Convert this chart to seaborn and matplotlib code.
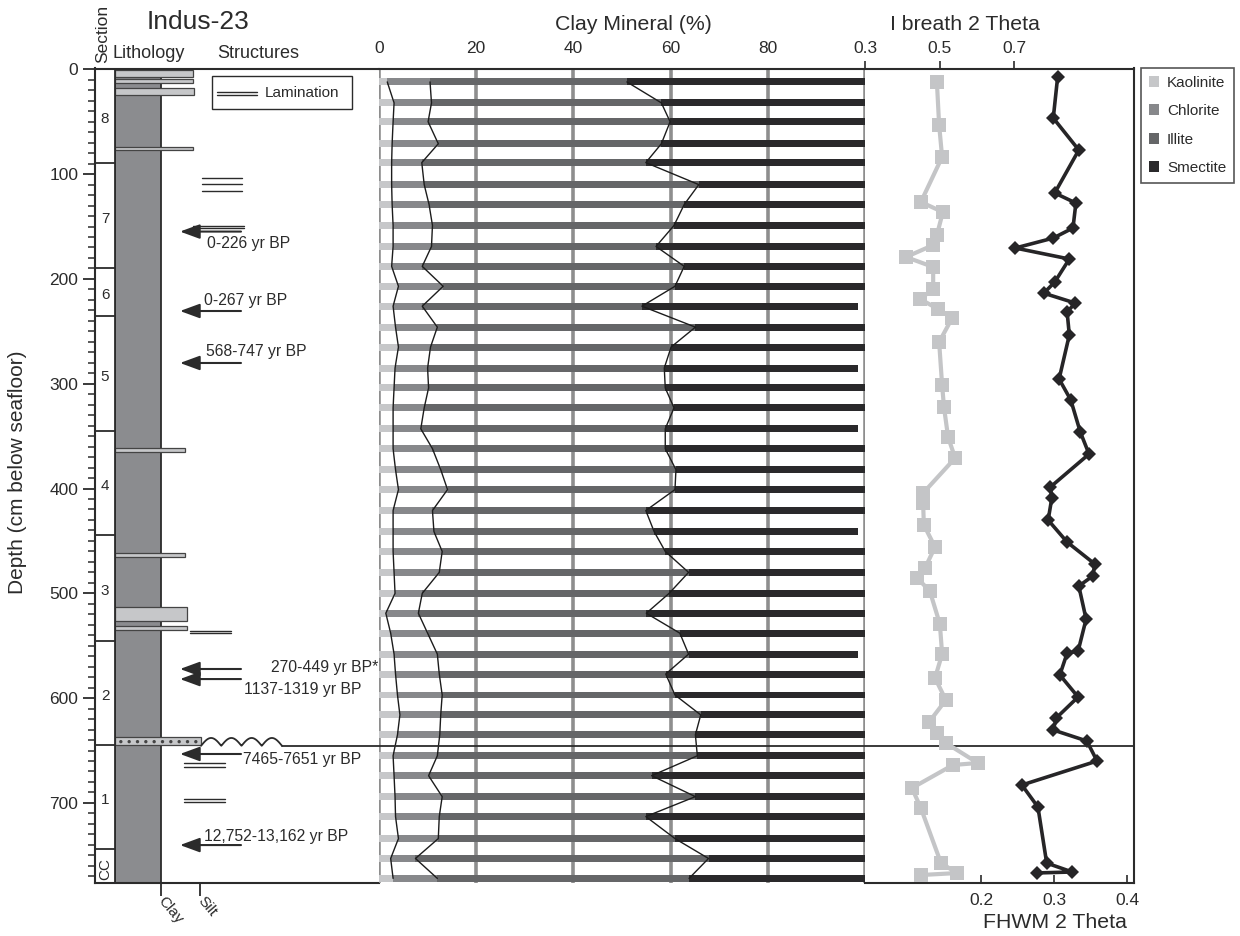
import numpy as np
import pandas as pd
import matplotlib
matplotlib.use("Agg")
import matplotlib.pyplot as plt
from matplotlib.patches import Rectangle, Patch
import seaborn as sns

# ---- clay mineral percentages (stacked bars) ----
bar_depth = [12, 32, 50, 71, 89, 110, 129, 149, 169, 188,
             207, 226, 246, 265, 285, 304, 323, 343, 362, 382,
             401, 421, 441, 460, 480, 500, 519, 538, 558, 577,
             597, 616, 635, 655, 674, 694, 713, 734, 753, 772]
kaolinite = [1.7, 3.1, 2.9, 2.7, 2.6, 2.6, 2.7, 2.9, 2.9, 2.6,
             4.0, 2.9, 3.4, 4.0, 3.3, 3.1, 2.9, 2.9, 2.9, 3.4,
             4.0, 2.9, 2.9, 2.9, 3.1, 3.3, 1.4, 2.4, 3.1, 3.4,
             3.8, 4.3, 3.8, 2.9, 3.1, 3.3, 3.4, 4.0, 2.4, 2.9]
chlorite = [8.8, 7.7, 7.2, 9.5, 6.2, 6.7, 7.6, 8.1, 7.9, 6.3,
            9.2, 6.0, 8.6, 6.6, 6.7, 7.1, 6.4, 5.7, 8.1, 9.3,
            10.1, 8.1, 8.4, 10.1, 9.3, 5.6, 6.7, 7.6, 8.9, 9.0,
            9.2, 8.4, 8.7, 9.1, 7.1, 9.7, 9.0, 8.2, 5.1, 9.1]
illite = [40.5, 47.3, 49.8, 45.9, 46.1, 56.5, 52.5, 49.7, 46.2, 53.9,
          47.7, 45.2, 53.1, 49.5, 48.7, 48.7, 51.4, 50.3, 47.9, 48.4,
          46.8, 43.9, 45.3, 45.9, 51.3, 50.8, 46.9, 51.9, 51.7, 46.6,
          47.9, 53.5, 52.6, 53.5, 45.9, 52.1, 42.5, 48.7, 60.3, 51.8]
smectite = [48.9, 41.8, 40.5, 41.8, 45.0, 34.1, 37.1, 39.2, 42.9, 37.1,
            39.0, 44.5, 35.3, 39.8, 39.9, 41.0, 39.2, 39.7, 41.0, 39.3,
            39.5, 45.5, 42.0, 41.0, 36.7, 40.7, 44.9, 38.0, 34.9, 40.9,
            39.5, 34.2, 35.3, 34.4, 43.8, 34.8, 45.0, 39.0, 32.1, 36.1]

# ---- crystallinity ----
ki_depth = [12.1, 53.1, 83.7, 126.6, 136.2, 158.1, 167.7, 179.1, 188.6, 209.6,
            219.2, 228.7, 237.3, 260.2, 301.2, 322.2, 350.9, 370.9, 404.3, 413.8,
            434.8, 455.8, 475.9, 485.4, 497.8, 529.3, 557.9, 580.8, 601.8, 622.8,
            633.3, 642.8, 661.9, 663.8, 685.8, 704.9, 757.4, 766.9, 768.8]
ki_value = [0.493, 0.499, 0.507, 0.450, 0.509, 0.493, 0.483, 0.410, 0.483, 0.483,
            0.448, 0.496, 0.534, 0.499, 0.507, 0.512, 0.523, 0.542, 0.456, 0.456,
            0.458, 0.488, 0.461, 0.440, 0.474, 0.501, 0.507, 0.488, 0.517, 0.472,
            0.493, 0.517, 0.603, 0.536, 0.426, 0.450, 0.504, 0.547, 0.450]
fwhm_depth = [7.3, 46.5, 77.0, 118.0, 127.6, 151.4, 161.0, 170.5, 181.0, 203.0,
              213.6, 223.0, 231.6, 253.5, 295.5, 315.5, 346.0, 367.1, 398.6, 409.1,
              430.1, 451.1, 472.1, 483.5, 493.1, 524.6, 555.2, 557.0, 577.9, 598.9,
              619.0, 630.4, 640.9, 660.0, 682.9, 703.9, 757.4, 765.9, 766.8]
fwhm_value = [0.305, 0.299, 0.334, 0.301, 0.330, 0.326, 0.299, 0.247, 0.321, 0.301,
              0.286, 0.329, 0.318, 0.321, 0.307, 0.323, 0.336, 0.348, 0.295, 0.297,
              0.292, 0.318, 0.356, 0.353, 0.334, 0.344, 0.333, 0.318, 0.308, 0.333,
              0.303, 0.299, 0.345, 0.359, 0.256, 0.278, 0.290, 0.325, 0.277]

# ---- core log ----
section_names = ['8', '7', '6', '5', '4', '3', '2', '1', 'CC']
section_tops = [0, 89.5, 189.6, 235.4, 345.1, 444.4, 545.5, 644.7, 744.0]
core_bottom = 776.4
silt_top = [0.7, 9.3, 17.8, 74.1, 361.4, 461.5, 513.1, 531.2]
silt_base = [7.3, 13.1, 24.5, 77.0, 365.2, 465.3, 526.4, 535.0]
silt_reach = [98, 98, 99, 98, 90, 90, 92, 92]
sand_top, sand_base = 637.1, 644.7
hiatus_depth = 645.5
lamination_depths = [103.7, 109.4, 116.1, 149.5, 151.4, 536.0, 538.0,
                     661.9, 665.7, 696.2, 699.1]
age_depth = [154.8, 230.6, 280.2, 572.2, 581.8, 653.3, 740.2]
age_label = ['0-226 yr BP', '0-267 yr BP', '568-747 yr BP', '270-449 yr BP*',
             '1137-1319 yr BP', '7465-7651 yr BP', '12,752-13,162 yr BP']

KAO, CHL, ILL, SME = '#c6c7c9', '#87888b', '#656668', '#2a292b'
INK = '#2b2b2b'

sns.set_style("white")
plt.rcParams['font.family'] = ['Liberation Sans', 'DejaVu Sans']
plt.rcParams['text.color'] = INK
plt.rcParams['xtick.color'] = INK
plt.rcParams['ytick.color'] = INK
plt.rcParams['xtick.bottom'] = True
plt.rcParams['ytick.left'] = True
plt.rcParams['hatch.color'] = '#9a9a9a'
plt.rcParams['hatch.linewidth'] = 1.2


def fx(px):
    return px / 1240


def fy(py):
    return 1 - py / 936


fig = plt.figure(figsize=(12.4, 9.36), dpi=100)
bot, hgt = fy(883), (883 - 68.5) / 936
ax_lith = fig.add_axes([fx(95), bot, fx(284), hgt])
ax_clay = fig.add_axes([fx(379), bot, fx(486), hgt])
ax_kb = fig.add_axes([fx(865), bot, fx(269), hgt])
ax_kt = ax_kb.twiny()

ylim = (core_bottom, -0.8)

# ---------------- lithology panel ----------------
ax_lith.set_xlim(0, 284)
ax_lith.set_ylim(*ylim)
for s in ['left', 'top', 'bottom']:
    ax_lith.spines[s].set_color(INK)
    ax_lith.spines[s].set_linewidth(1.5)
ax_lith.spines['right'].set_visible(False)

ax_lith.add_patch(Rectangle((20, 0), 46, core_bottom, facecolor='#8b8c8f',
                            edgecolor=INK, lw=1.3))
for t, r, b in zip(silt_top, silt_reach, silt_base):
    ax_lith.add_patch(Rectangle((20, t), r - 20, b - t, facecolor=KAO,
                                edgecolor='#444', lw=0.9))
ax_lith.add_patch(Rectangle((20, sand_top), 86, sand_base - sand_top,
                            facecolor=KAO, edgecolor='#444', lw=0.9,
                            hatch='..'))
ax_lith.add_patch(Rectangle((0, 0), 20, core_bottom, facecolor='white',
                            edgecolor=INK, lw=1.3))
bounds = section_tops[1:] + [core_bottom]
ax_lith.hlines(section_tops[1:], 0, 20, color=INK, lw=1.3)
for name, t, b in zip(section_names, section_tops, bounds):
    ax_lith.text(10, (t + b) / 2 + 3, name, ha='center', va='center',
                 fontsize=11, rotation=90 if name == 'CC' else 0)

# wavy erosional contact and horizontal event line
t = np.linspace(0, 1, 300)
wx = 106 + 81 * t
wy = hiatus_depth - 7.5 * np.abs(np.sin(4 * np.pi * t))
ax_lith.plot(wx, wy, color=INK, lw=1.3)
ax_lith.plot([187, 284], [hiatus_depth, hiatus_depth], color=INK, lw=1.3,
             clip_on=False)

# laminations
lam_x = [(107, 147)] * 3 + [(98, 149)] * 2 + [(95, 136)] * 2 + [(89, 130)] * 4
for d, (x0, x1) in zip(lamination_depths, lam_x):
    ax_lith.plot([x0, x1], [d, d], color=INK, lw=1.0)

# lamination key
ax_lith.add_patch(Rectangle((117, 6.4), 140, 31.5, facecolor='white',
                            edgecolor=INK, lw=1.0))
ax_lith.plot([122, 162], [21.7, 21.7], color=INK, lw=1.0)
ax_lith.plot([122, 162], [24.5, 24.5], color=INK, lw=1.0)
ax_lith.text(170, 23, 'Lamination', va='center', fontsize=11)

# radiocarbon ages
text_pos = [(112, 165.8, 'left'), (109, 220.1, 'left'), (111, 269.7, 'left'),
            (283, 570.3, 'right'), (149, 591.3, 'left'), (148, 659.0, 'left'),
            (109, 731.6, 'left')]
for d, lab, (tx, ty, ha) in zip(age_depth, age_label, text_pos):
    ax_lith.annotate('', xy=(85, d), xytext=(146, d),
                     arrowprops=dict(arrowstyle='-|>,head_length=0.6,head_width=0.22',
                                     mutation_scale=20, lw=1.5, color=INK,
                                     shrinkA=0, shrinkB=0))
    ax_lith.text(tx, ty, lab, ha=ha, va='center', fontsize=11.3)

ax_lith.set_yticks(np.arange(0, 701, 100))
ax_lith.set_yticks(np.arange(0, 771, 10), minor=True)
ax_lith.tick_params(axis='y', which='major', direction='out', length=9,
                    width=1.3, labelsize=12.5, pad=3, left=True)
ax_lith.tick_params(axis='y', which='minor', direction='out', length=5,
                    width=1.1, left=True)
ax_lith.set_xticks([66, 105])
ax_lith.set_xticklabels(['Clay', 'Silt'], rotation=-50, ha='left',
                        va='center', rotation_mode='anchor', fontsize=11)
ax_lith.tick_params(axis='x', direction='out', length=9, width=1.3, pad=2,
                    bottom=True)

# ---------------- clay mineral panel ----------------
clay = pd.DataFrame({'depth': bar_depth, 'kao': kaolinite, 'chl': chlorite,
                     'ill': illite, 'sme': smectite})
clay['c1'] = clay.kao
clay['c2'] = clay.c1 + clay.chl
clay['c3'] = clay.c2 + clay.ill
clay['c4'] = clay.c3 + clay.sme

for col, colr in [('c4', SME), ('c3', ILL), ('c2', CHL), ('c1', KAO)]:
    sns.barplot(data=clay, x=col, y='depth', orient='y', native_scale=True,
                width=0.37, color=colr, saturation=1, errorbar=None,
                linewidth=0, ax=ax_clay)
for col in ['c1', 'c2', 'c3']:
    sns.lineplot(data=clay, x=col, y='depth', orient='y', estimator=None,
                 color='#1c1c1c', lw=1.0, ax=ax_clay)

ax_clay.set_xlim(0, 100)
ax_clay.set_ylim(*ylim)
ax_clay.set_xlabel('')
ax_clay.set_ylabel('')
ax_clay.set_yticks([])
ax_clay.xaxis.tick_top()
ax_clay.set_xticks([0, 20, 40, 60, 80, 100])
ax_clay.set_xticklabels(['0', '20', '40', '60', '80', ''])
ax_clay.tick_params(axis='x', length=0, labelsize=12.5, pad=9)
ax_clay.grid(axis='x', color='#8e8e8e', lw=2.6)
ax_clay.grid(axis='y', visible=False)
ax_clay.set_axisbelow(True)
for s in ['left', 'right', 'bottom']:
    ax_clay.spines[s].set_visible(False)
ax_clay.spines['top'].set_color(INK)
ax_clay.spines['top'].set_linewidth(1.5)
ax_clay.axhline(hiatus_depth, color=INK, lw=1.3)

# ---------------- crystallinity panel ----------------
sns.lineplot(x=ki_value, y=ki_depth, sort=False, estimator=None, marker='s',
             markersize=10, markeredgewidth=0, color='#c4c5c7', lw=3,
             ax=ax_kt)
sns.lineplot(x=fwhm_value, y=fwhm_depth, sort=False, estimator=None,
             marker='D', markersize=7.5, markeredgewidth=0, color='#262527',
             lw=2.6, ax=ax_kb)

ax_kb.set_xlim(0.0411, 0.4096)
ax_kt.set_xlim(0.3, 1.0221)
ax_kb.set_ylim(*ylim)
ax_kb.set_yticks([])
ax_kb.set_xticks([0.2, 0.3, 0.4])
ax_kb.set_xticklabels(['0.2', '0.3', '0.4'])
ax_kb.tick_params(axis='x', direction='in', length=6, width=1.2,
                  labelsize=12.5, pad=7, bottom=True)
ax_kt.set_xticks([0.3, 0.5, 0.7])
ax_kt.set_xticklabels(['0.3', '0.5', '0.7'])
ax_kt.tick_params(axis='x', direction='out', length=5, width=1.2,
                  labelsize=12.5, pad=4, top=True)
for a in (ax_kb, ax_kt):
    a.set_xlabel('')
    a.set_ylabel('')
for s in ax_kt.spines.values():
    s.set_visible(False)
ax_kb.spines['left'].set_visible(False)
for s in ['right', 'top', 'bottom']:
    ax_kb.spines[s].set_color(INK)
    ax_kb.spines[s].set_linewidth(1.5)
ax_kb.axhline(hiatus_depth, color=INK, lw=1.3)

# ---------------- headers ----------------
fig.text(fx(147), fy(22), 'Indus-23', fontsize=19, va='center', ha='left')
fig.text(fx(103), fy(34), 'Section', fontsize=12.5, rotation=90,
         ha='center', va='center')
fig.text(fx(113), fy(53), 'Lithology', fontsize=13, va='center', ha='left')
fig.text(fx(217), fy(53), 'Structures', fontsize=13, va='center', ha='left')
fig.text(fx(633), fy(24), 'Clay Mineral (%)', fontsize=15.3, ha='center',
         va='center')
fig.text(fx(965), fy(24), 'I breath 2 Theta', fontsize=15.3, ha='center',
         va='center')
fig.text(fx(1055), fy(922), 'FHWM 2 Theta', fontsize=15.3, ha='center',
         va='center')
fig.text(fx(18), fy(472), 'Depth (cm below seafloor)', fontsize=15,
         rotation=90, ha='center', va='center')

handles = [Patch(facecolor=c, edgecolor='none', label=l)
           for c, l in zip([KAO, CHL, ILL, SME],
                           ['Kaolinite', 'Chlorite', 'Illite', 'Smectite'])]
leg = fig.legend(handles=handles, loc='upper left',
                 bbox_to_anchor=(fx(1141), fy(68)), fontsize=11,
                 frameon=True, fancybox=False, edgecolor=INK,
                 handlelength=0.7, handleheight=0.7, handletextpad=0.5,
                 labelspacing=0.95, borderpad=0.5, borderaxespad=0)
leg.get_frame().set_linewidth(1.2)

fig.savefig('out.png', dpi=100)
